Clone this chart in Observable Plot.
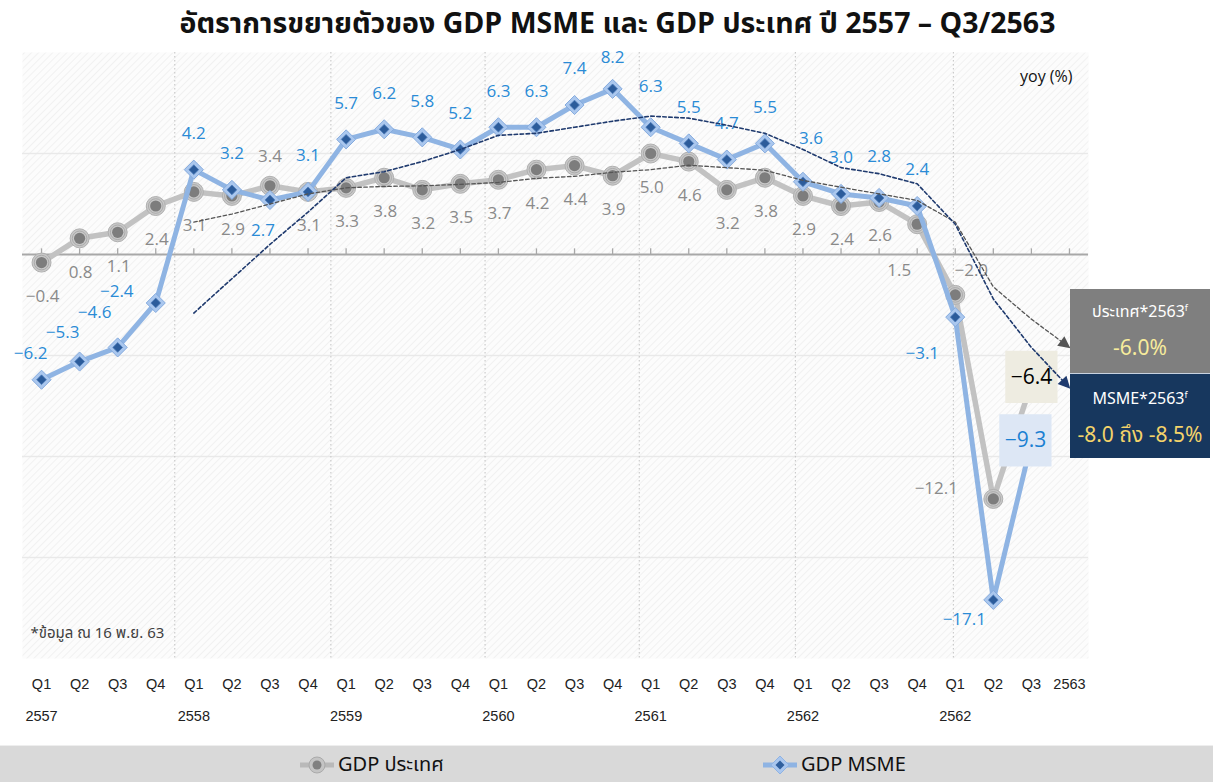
<!DOCTYPE html>
<html><head><meta charset="utf-8">
<script src="https://cdn.jsdelivr.net/npm/d3@7"></script>
<script src="https://cdn.jsdelivr.net/npm/@observablehq/plot@0.6"></script>
<style>
body{margin:0;background:#fff;width:1213px;height:782px;position:relative;overflow:hidden;font-family:"Noto Sans Thai","Tahoma","Liberation Sans","DejaVu Sans",sans-serif;}
#title{position:absolute;left:0;top:9px;width:1213px;height:32px;text-align:center;font-weight:bold;font-size:28.5px;line-height:32px;padding-left:22px;box-sizing:border-box;color:#111;z-index:5;}
#chart{position:absolute;left:0;top:40px;}
.cb{position:absolute;left:1070px;width:140px;color:#fff;text-align:center;box-sizing:border-box;z-index:5;}
.cb .t{font-size:16px;line-height:20px;}
.cb .v{font-size:21px;line-height:26px;}
#legend{position:absolute;left:0;top:745px;width:1213px;height:37px;background:#d9d9d9;border-top:1px solid #eee;box-sizing:border-box;}
.li{position:absolute;top:4px;height:30px;display:flex;align-items:center;font-size:20px;color:#111;}
</style></head>
<body>
<div id="title">อัตราการขยายตัวของ GDP MSME และ GDP ประเทศ ปี 2557 – Q3/2563</div>
<div id="chart"></div>
<div class="cb" style="top:289px;height:84px;background:#7f7f7f;">
  <div class="t" style="padding-top:9px">ประเทศ*2563<sup style="font-size:9px">f</sup></div>
  <div class="v" style="padding-top:14px;color:#f7ec9c">−6.0%</div>
</div>
<div class="cb" style="top:373px;height:85px;background:#17375e;border-top:1px solid #c8d2e0;">
  <div class="t" style="padding-top:11px">MSME*2563<sup style="font-size:9px">f</sup></div>
  <div class="v" style="padding-top:14px;color:#f3d36a">−8.0 ถึง −8.5%</div>
</div>
<div id="legend">
  <div class="li" style="left:298px">
    <svg width="38" height="24"><line x1="2" y1="12" x2="36" y2="12" stroke="#b9b9b9" stroke-width="5"/><circle cx="19" cy="12" r="8" fill="#c4c4c4" stroke="#aaa"/><circle cx="19" cy="12" r="4.5" fill="#808080"/></svg>
    <span style="margin-left:2px">GDP ประเทศ</span>
  </div>
  <div class="li" style="left:761px">
    <svg width="38" height="24"><line x1="2" y1="12" x2="36" y2="12" stroke="#8fb4e3" stroke-width="5"/><path d="M19,3L28,12L19,21L10,12z" fill="#a9c6ee" stroke="#8fb3e3"/><path d="M19,7.5L23.5,12L19,16.5L14.5,12z" fill="#2f5f9e"/></svg>
    <span style="margin-left:2px">GDP MSME</span>
  </div>
</div>
<script>
// ---- data ----
const tickLabels = ["Q1","Q2","Q3","Q4","Q1","Q2","Q3","Q4","Q1","Q2","Q3","Q4","Q1","Q2","Q3","Q4","Q1","Q2","Q3","Q4","Q1","Q2","Q3","Q4","Q1","Q2","Q3","2563"];
const yearLabels = ["2557","2558","2559","2560","2561","2562","2562"];
const yearLabelIdx = [0,4,8,12,16,20,24];
const yearGrid = [3.5, 7.6, 11.65, 15.7, 19.8, 23.95];
const gdpCountry = [-0.4,0.8,1.1,2.4, 3.1,2.9,3.4,3.1, 3.3,3.8,3.2,3.5, 3.7,4.2,4.4,3.9, 5.0,4.6,3.2,3.8, 2.9,2.4,2.6,1.5, -2.0,-12.1,-6.4];
const gdpMsme = [-6.2,-5.3,-4.6,-2.4, 4.2,3.2,2.7,3.1, 5.7,6.2,5.8,5.2, 6.3,6.3,7.4,8.2, 6.3,5.5,4.7,5.5, 3.6,3.0,2.8,2.4, -3.1,-17.1,-9.3];
const trendStart = 4;
const countryTrend = [1.6,2.0,2.5,3.0, 3.3,3.37,3.4,3.47, 3.57,3.77,3.87,4.07, 4.2,4.42,4.3,4.17, 3.67,3.33,3.0,2.68, 1.6,-1.6,-3.2,-4.6];
const msmeTrend = [-2.9,-1.2,0.5,2.1, 3.8,4.1,4.6,5.2, 5.9,6.0,6.3,6.6, 6.85,6.75,6.4,6.0, 5.2,4.3,4.0,3.5, 1.5,-2.2,-4.6,-6.6];
// label placement codes
const countryPlace = ["b","b","b","b","b","b","a","b","b","b","b","b","b","b","b","b","b","b","b","b","b","b","b","bl","ar","l","box"];
const msmePlace = ["al1","al2","al3","l","a","a","b","a","a","a","a","a","a","a","a","a3","a2","a","a","a","ar","a","a2","a","bl","bl2","box"];

// ---- build ----
const placeOffsets = {
  country: {b:[1,34], a:[0,-29], bl:[-18,46], ar:[16,-24], l:[-57,-10]},
  msme: {a:[0,-36], a2:[0,-41], a3:[0,-31], b:[-7,31], al1:[-11,-26], al2:[-17,-29], al3:[-23,-35], l:[-39,-11], ar:[8,-43], bl:[-33,36], bl2:[-29,20]}
};
const country = gdpCountry.map((v,i)=>({i, v, p: countryPlace[i]}));
const msme = gdpMsme.map((v,i)=>({i, v, p: msmePlace[i]}));
const cTrend = countryTrend.map((v,k)=>({i:k+trendStart, v}));
const mTrend = msmeTrend.map((v,k)=>({i:k+trendStart, v}));
const fmt = d3.format(".1f");
const numFont = "'Open Sans','Liberation Sans',sans-serif";
const C_TREND = "#555555", M_TREND = "#1f3a6e";

function labelMarks(data, offs, color){
  return Object.entries(offs).map(([code,[dx,dy]]) =>
    Plot.text(data.filter(d=>d.p===code), {x:"i", y:"v", text:d=>fmt(d.v), dx, dy, fill:color, fontSize:17, fontFamily:numFont})
  );
}

const chart = Plot.plot({
  width: 1213, height: 705,
  marginLeft: 22, marginRight: 125, marginTop: 12, marginBottom: 87,
  style: {background: "transparent", fontFamily: "'Liberation Sans',sans-serif"},
  x: {domain: [-0.5, 27.5], axis: null},
  y: {domain: [-20, 10], axis: null},
  marks: [
    Plot.frame({fill: "#fbfbfb", stroke: "none"}),
    Plot.ruleY([5,-5,-10,-15], {stroke: "#e9e9e9", strokeWidth: 1.6}),
    Plot.ruleX(yearGrid, {stroke: "#c2c2c2", strokeWidth: 1, strokeDasharray: "1.5,2.5"}),
    Plot.ruleY([0], {stroke: "#a8a8a8", strokeWidth: 2}),
    Plot.ruleX(d3.range(tickLabels.length), {x: d=>d, y1: 0, y2: 0.28, stroke: "#a8a8a8", strokeWidth: 1.3}),
    // x axis labels
    Plot.text(tickLabels, {x: (d,i)=>i, text: d=>d, frameAnchor: "bottom", dy: 30, fontSize: 14.5, fill: "#222"}),
    Plot.text(yearLabels, {x: (d,i)=>yearLabelIdx[i], text: d=>d, frameAnchor: "bottom", dy: 62, fontSize: 14.5, fill: "#222"}),
    // series
    Plot.line(country, {x: "i", y: "v", stroke: "#c2c2c2", strokeWidth: 5.5}),
    Plot.dot(country, {x: "i", y: "v", r: 9.5, fill: "#c8c8c8", stroke: "#b0b0b0", strokeWidth: 1}),
    Plot.dot(country, {x: "i", y: "v", r: 7.3, fill: "none", stroke: "#a3a3a3", strokeWidth: 0.8}),
    Plot.dot(country, {x: "i", y: "v", r: 5.6, fill: "#7d7d7d"}),
    Plot.line(msme, {x: "i", y: "v", stroke: "#8fb4e3", strokeWidth: 5}),
    Plot.dot(msme, {x: "i", y: "v", symbol: "diamond2", r: 8.6, fill: "#aac7ee", stroke: "#85abde", strokeWidth: 1}),
    Plot.dot(msme, {x: "i", y: "v", symbol: "diamond2", r: 4.4, fill: "#2c5c9b", stroke: "#4f7dbb", strokeWidth: 0.8}),
    // labels
    ...labelMarks(country, placeOffsets.country, "#8a8a8a"),
    ...labelMarks(msme, placeOffsets.msme, "#2a8bd6"),
    // boxed last values
    Plot.dot(country.filter(d=>d.p==="box"), {x: "i", y: "v", symbol: "square", r: 29.5, fill: "#eeece1", dy: -7}),
    Plot.text(country.filter(d=>d.p==="box"), {x: "i", y: "v", text: d=>fmt(d.v), dy: -7, fontSize: 21, fill: "#000", fontFamily: numFont}),
    Plot.dot(msme.filter(d=>d.p==="box"), {x: "i", y: "v", symbol: "square", r: 29.5, fill: "#dde7f5", dx: -6, dy: -2}),
    Plot.text(msme.filter(d=>d.p==="box"), {x: "i", y: "v", text: d=>fmt(d.v), dx: -6, dy: -2, fontSize: 21, fill: "#1a80d2", fontFamily: numFont}),
    // trend lines
    Plot.line(cTrend, {x: "i", y: "v", stroke: C_TREND, strokeWidth: 1.3, strokeDasharray: "3.5,2.5"}),
    Plot.line(mTrend, {x: "i", y: "v", stroke: M_TREND, strokeWidth: 1.6, strokeDasharray: "3.5,2.5"}),
    // notes
    Plot.text(["yoy (%)"], {text: d=>d, frameAnchor: "top-right", dx: -16, dy: 18, fontSize: 16, fill: "#111", fontFamily: numFont}),
    Plot.text(["*ข้อมูล ณ 16 พ.ย. 63"], {text: d=>d, frameAnchor: "bottom-left", dx: 8, dy: -21, fontSize: 15, fill: "#404040", textAnchor: "start", fontFamily: "'Noto Sans Thai','Tahoma',sans-serif"})
  ]
});
document.getElementById("chart").appendChild(chart);

// pattern + arrow markers
const svg = d3.select(chart);
const defs = svg.insert("defs", ":first-child");
const pat = defs.append("pattern").attr("id","hatch").attr("patternUnits","userSpaceOnUse").attr("width",5).attr("height",5).attr("patternTransform","rotate(45)");
pat.append("rect").attr("width",5).attr("height",5).attr("fill","#fcfcfc");
pat.append("line").attr("x1",0).attr("y1",0).attr("x2",0).attr("y2",5).attr("stroke","#ececec").attr("stroke-width",1.3);
svg.selectAll('[aria-label="frame"]').each(function(){
  if (this.tagName.toLowerCase()==="rect") d3.select(this).attr("fill","url(#hatch)");
  else d3.select(this).selectAll("rect").attr("fill","url(#hatch)");
});
function marker(id, color){
  const m = defs.append("marker").attr("id",id).attr("viewBox","0 0 10 10").attr("refX",9).attr("refY",5)
    .attr("markerWidth",14).attr("markerHeight",12).attr("markerUnits","userSpaceOnUse").attr("orient","auto");
  m.append("path").attr("d","M0,0L10,5L0,10z").attr("fill",color).attr("stroke","none");
}
marker("arrG", C_TREND); marker("arrN", M_TREND);
svg.selectAll("path").each(function(){
  const g = this.parentNode;
  const s = (g.getAttribute && g.getAttribute("stroke")) || this.getAttribute("stroke");
  if (s === C_TREND) d3.select(this).attr("marker-end","url(#arrG)");
  if (s === M_TREND) d3.select(this).attr("marker-end","url(#arrN)");
});
</script>
</body></html>
